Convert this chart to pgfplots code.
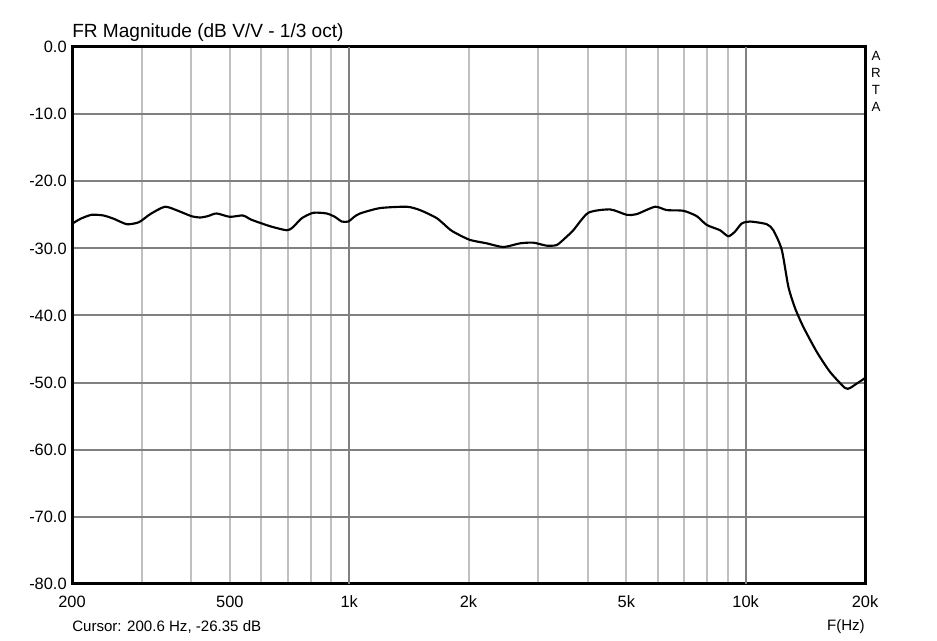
\documentclass[border=0pt]{standalone}
\usepackage{pgfplots}
\pgfplotsset{compat=1.18}
\usepackage{fontspec}
\setmainfont{Liberation Sans}
\definecolor{gridlight}{RGB}{192,192,192}
\definecolor{griddark}{RGB}{128,128,128}
\pgfplotstableread{
f db
200 -26.35
210 -25.6
224 -25.0
240 -25.1
255 -25.6
275 -26.4
295 -26.1
315 -24.9
343 -23.8
370 -24.4
400 -25.2
421 -25.4
440 -25.2
463 -24.8
500 -25.3
539 -25.1
565 -25.7
596 -26.2
640 -26.8
696 -27.3
720 -26.9
760 -25.5
812 -24.7
877 -24.8
920 -25.3
958 -26.0
995 -26.0
1030 -25.3
1065 -24.8
1196 -24.0
1397 -23.8
1509 -24.3
1663 -25.5
1796 -27.2
1867 -27.8
2018 -28.75
2223 -29.25
2448 -29.8
2697 -29.25
2913 -29.15
3149 -29.6
3338 -29.5
3500 -28.5
3675 -27.3
4010 -24.7
4550 -24.2
5012 -25.0
5311 -24.9
5908 -23.8
6323 -24.3
6965 -24.4
7527 -25.2
7973 -26.5
8615 -27.3
9037 -28.2
9399 -27.5
9773 -26.3
10256 -26.0
11300 -26.4
11742 -27.3
12330 -30.2
12812 -35.7
13320 -38.9
13978 -41.7
15106 -45.4
16318 -48.4
17808 -50.8
18324 -50.8
19000 -50.2
19802 -49.5
20000 -49.3
}\datatable
\begin{document}
\begin{tikzpicture}
\path[use as bounding box] (-54pt,-42.75pt) rectangle (648.75pt,438pt);
\begin{axis}[
  at={(0pt,0pt)}, anchor=south west,
  scale only axis, width=594.75pt, height=402.75pt,
  xmode=log, xmin=200, xmax=20000, ymin=-80, ymax=0,
  log basis x=10,
  xtick={200,500,2000,5000,20000},
  xticklabels={200,500,2k,5k,20k},
  extra x ticks={1000,10000},
  extra x tick labels={1k,10k},
  extra x tick style={major grid style={griddark, line width=1.5pt}},
  minor xtick={300,400,600,700,800,900,3000,4000,6000,7000,8000,9000},
  ytick={-80,-70,...,0},
  yticklabels={-80.0,-70.0,-60.0,-50.0,-40.0,-30.0,-20.0,-10.0,0.0},
  xmajorgrids, xminorgrids, ymajorgrids,
  major grid style={gridlight, line width=1.5pt},
  minor grid style={gridlight, line width=1.5pt},
  y grid style={griddark, line width=1.5pt},
  major tick length=0pt, minor tick length=0pt,
  tick label style={font=\fontsize{12.3}{14}\selectfont},
  yticklabel style={xshift=-0.5pt},
  xticklabel style={yshift=-5.5pt},
  axis line style={black, line width=2.25pt},
  clip=true,
]
\addplot[black, line width=1.6pt, smooth, tension=0.4] table[x=f, y=db] {\datatable};
\end{axis}
\node[anchor=west, inner sep=0pt, font=\fontsize{14.3}{16}\selectfont] at (0pt,413.25pt) {FR Magnitude (dB V/V - 1/3 oct)};
\node[anchor=west, inner sep=0pt, font=\fontsize{11.3}{13}\selectfont] at (0pt,-32.25pt) {Cursor: 200.6 Hz, -26.35 dB};
\node[anchor=east, inner sep=0pt, font=\fontsize{11.3}{13}\selectfont] at (594.75pt,-32.25pt) {F(Hz)};
\node[align=center, inner sep=0pt, font=\fontsize{10}{12.75}\selectfont] at (603pt,377.25pt) {A\\R\\T\\A};
\end{tikzpicture}
\end{document}
